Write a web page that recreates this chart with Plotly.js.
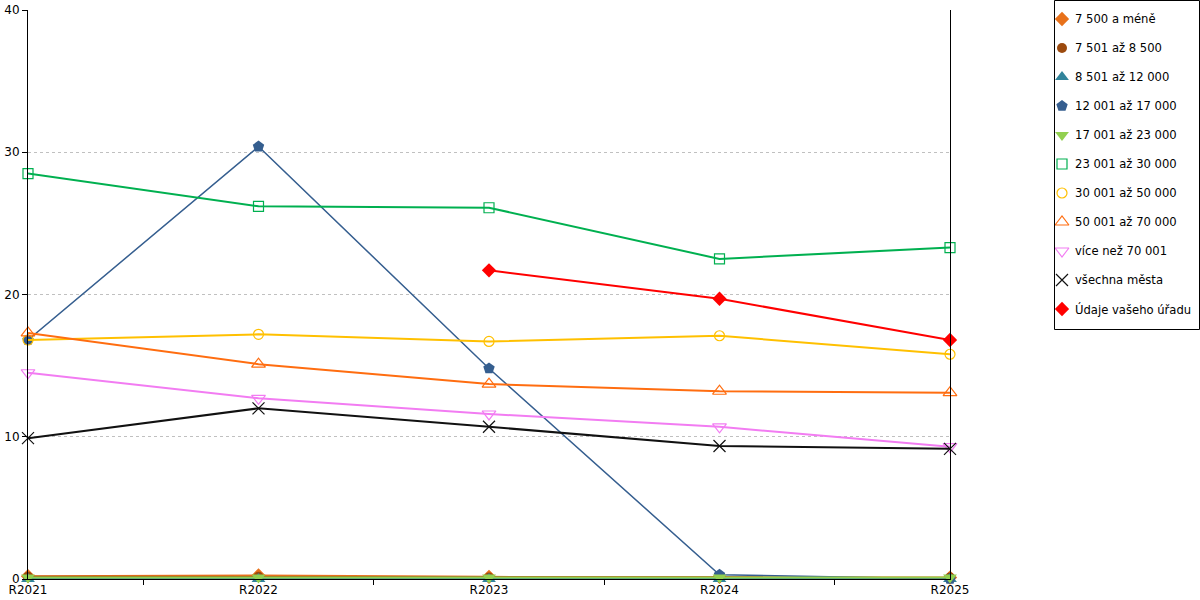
<!DOCTYPE html>
<html>
<head>
<meta charset="utf-8">
<script src="https://cdn.plot.ly/plotly-3.0.1.min.js"></script>
<style>
  html, body { margin: 0; padding: 0; background: #fff; }
  #chart { width: 1200px; height: 600px; }
</style>
</head>
<body>
<div id="chart"></div>
<script>
(function () {
  "use strict";

  // Categories (years)
  const years = ["R2021", "R2022", "R2023", "R2024", "R2025"];

  // Series values
  const s7500   = [0.20, 0.25, 0.15, 0.15, 0.10];
  const s8500   = [0.15, 0.15, 0.10, 0.10, 0.10];
  const s12000  = [0.00, 0.00, 0.00, 0.00, 0.00];
  const s17000  = [16.8, 30.4, 14.8, 0.3, 0.0];
  const s23000  = [0.10, 0.10, 0.10, 0.10, 0.10];
  const s30000  = [28.5, 26.2, 26.1, 22.5, 23.3];
  const s50000  = [16.8, 17.2, 16.7, 17.1, 15.8];
  const s70000  = [17.3, 15.1, 13.7, 13.2, 13.1];
  const sOver   = [14.5, 12.7, 11.6, 10.7, 9.3];
  const sAll    = [9.9, 12.0, 10.7, 9.35, 9.15];
  const sOffice = [null, null, 21.7, 19.7, 16.8];

  const FONT = "DejaVu Sans, Verdana, sans-serif";

  // name, values, color, marker symbol, line width
  const series = [
    ["7 500 a méně",         s7500,   "#e8711a", "diamond",            2],
    ["7 501 až 8 500",       s8500,   "#9c4a0e", "circle",             2],
    ["8 501 až 12 000",      s12000,  "#31849b", "triangle-up",        2],
    ["12 001 až 17 000",     s17000,  "#355e8f", "pentagon",           1.5],
    ["17 001 až 23 000",     s23000,  "#92d050", "triangle-down",      2],
    ["23 001 až 30 000",     s30000,  "#00b050", "square-open",        2],
    ["30 001 až 50 000",     s50000,  "#ffc000", "circle-open",        2],
    ["50 001 až 70 000",     s70000,  "#ff6d10", "triangle-up-open",   2],
    ["více než 70 001",      sOver,   "#f27cf2", "triangle-down-open", 2],
    ["všechna města",        sAll,    "#111111", "x-thin-open",        2],
    ["Údaje vašeho úřadu",   sOffice, "#ff0000", "diamond",            2],
  ];

  // triangles and the pentagon render smaller than squares at equal size
  const SYM_SIZE = {
    "diamond": 11, "circle": 10, "triangle-up": 12, "pentagon": 12,
    "triangle-down": 12, "square-open": 10, "circle-open": 10,
    "triangle-up-open": 12, "triangle-down-open": 12, "x-thin-open": 12,
  };

  function markerOf(color, sym) {
    return {
      symbol: sym, color, size: SYM_SIZE[sym],
      line: { color, width: sym.endsWith("open") ? 1.2 : 0 },
    };
  }

  const traces = series.map(([name, y, color, sym, w]) => ({
    type: "scatter", mode: "lines+markers", x: years, y, name,
    line: { color, width: w }, connectgaps: false, cliponaxis: false,
    marker: markerOf(color, sym),
    hovertemplate: `<b>${name}</b><br>%{x}: %{y:.1f}<extra></extra>`,
  }));

  /* ---- hand-built legend: a pixel-scaled overlay subplot (x2/y2) ---- */
  // overlay axes are in page pixels: x 28..1200, y 579 (bottom) .. 10 (top)
  const LEG_X = 1062, LEG_TEXT_X = 1073, LEG_Y0 = 19, LEG_STEP = 29;
  const legY = series.map((_, i) => LEG_Y0 + i * LEG_STEP);

  series.forEach(([name, , color, sym], i) => {
    traces.push({
      type: "scatter", mode: "markers", x: [LEG_X], y: [legY[i]],
      xaxis: "x2", yaxis: "y2", showlegend: false, hoverinfo: "skip",
      cliponaxis: false,
      marker: markerOf(color, sym),
    });
  });

  const annotations = series.map(([name], i) => ({
    xref: "x2", yref: "y2", x: LEG_TEXT_X, y: legY[i],
    text: name, showarrow: false, xanchor: "left", yanchor: "middle",
    font: { family: FONT, size: 11.6, color: "#000" },
  }));

  // paper spans x 28..1200 and y 10..579
  const px = v => (v - 28) / 1172;
  const py = v => (579 - v) / 569;

  const layout = {
    width: 1200, height: 600,
    paper_bgcolor: "#fff", plot_bgcolor: "rgba(0,0,0,0)",
    font: { family: FONT, size: 12, color: "#000" },
    margin: { l: 28, r: 0, t: 10, b: 21, pad: 0 },
    showlegend: false,
    xaxis: {
      type: "category", range: [0, 4], domain: [0, px(950)],
      showline: true, linecolor: "#000", linewidth: 1,
      ticks: "outside", ticklen: 5, tickcolor: "#000", tickson: "boundaries",
      showgrid: false, zeroline: false,
      tickfont: { family: FONT, size: 12, color: "#000" },
    },
    yaxis: {
      range: [0, 40], dtick: 10,
      showline: true, linecolor: "#000", linewidth: 1, mirror: true,
      ticks: "outside", ticklen: 5, tickcolor: "#000",
      showgrid: true, gridcolor: "#c0c0c0", griddash: "3px,3px", gridwidth: 1,
      zeroline: false,
      tickfont: { family: FONT, size: 12, color: "#000" },
    },
    xaxis2: { domain: [0, 1], anchor: "y2", range: [28, 1200], visible: false, fixedrange: true },
    yaxis2: { domain: [0, 1], anchor: "x2", range: [579, 10], visible: false, fixedrange: true },
    shapes: [{
      type: "rect", xref: "paper", yref: "paper",
      x0: px(1054.5), x1: px(1199.5), y0: py(329.5), y1: py(0.5),
      line: { color: "#000", width: 1 }, fillcolor: "rgba(0,0,0,0)",
    }],
    annotations,
  };

  Plotly.newPlot("chart", traces, layout, { displayModeBar: false, staticPlot: true });
})();
</script>
</body>
</html>
